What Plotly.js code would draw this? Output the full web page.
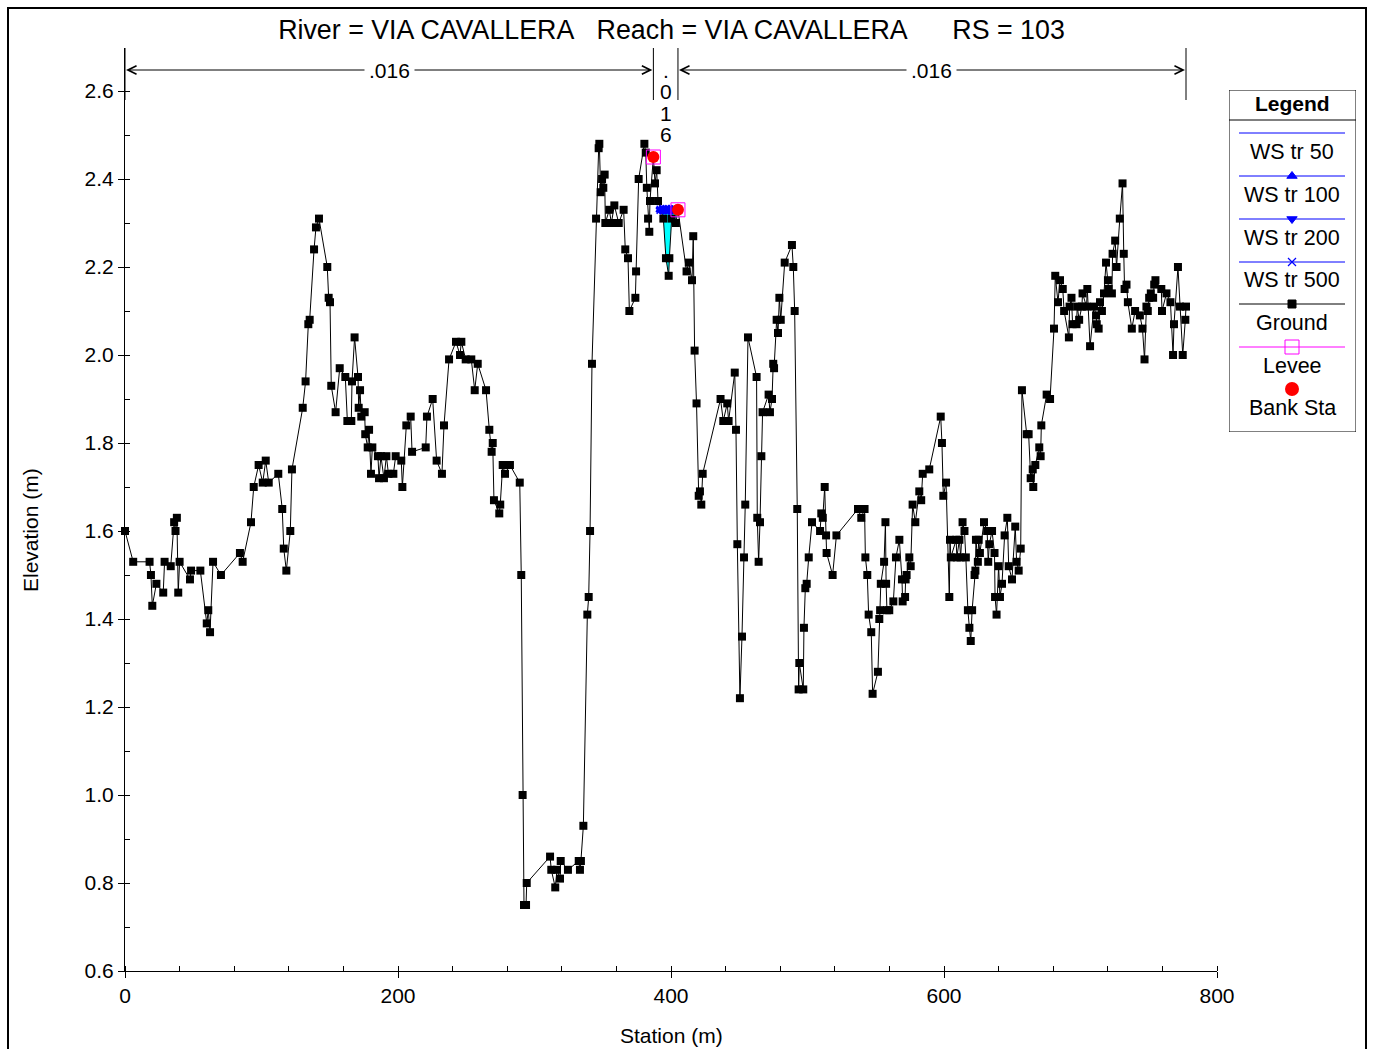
<!DOCTYPE html>
<html><head><meta charset="utf-8">
<script src="https://cdn.plot.ly/plotly-3.0.1.min.js"></script>
<style>html,body{margin:0;padding:0;background:#fff}#chart{width:1374px;height:1049px}</style>
</head><body><div id="chart"></div>
<script>
// ---------------- data ----------------
const groundSta = [0,6,18,19,20,23,28,29,33.5,36,37,38,39,40,47.6,48.4,55.2,59.9,61,62.3,64.5,70.3,84.2,86.2,92.3,94.3,97.9,100.9,103.1,105.3,112.3,115.2,116.3,118.2,121.1,122.3,
130.2,132.3,134.3,135.3,138.5,139.9,142.1,148.2,149.2,150.2,151.1,154.3,157.3,161.4,162.9,165.8,166.3,168.2,170.7,171.2,172.2,173.1,175.6,176,177.8,178.8,180.2,181.2,185.3,186.1,187.5,189.7,191.5,193,196.6,198.3,202.4,203.2,206.1,209.3,210.3,
220.3,221.2,225.4,228.3,232.2,233.7,237.4,242.5,245.4,246.4,249.6,253.7,256.2,258.4,264.5,266.9,268.6,269.4,270.3,274.2,274.9,276.7,278.4,282,289.2,290.3,291.3,292.3,293.8,294.3,
311.4,312.3,315.2,316.5,318.7,319.2,324.5,332.4,333.3,334,335.8,338.7,339.7,340.7,342.1,345.1,347,347.5,348.5,349.5,350.4,351.4,351.9,354.8,356.3,358.5,361.7,365.3,366.5,368.5,369.5,373.9,374.4,376.3,
380.5,381.5,382.3,383.2,384.1,384.6,387.1,388.3,389.5,390.5,394.4,396.3,398.3,398.8,400.5,403.6,405.1,411.4,413,415.4,416.3,417.3,418.7,420.3,421.2,422.2,423.2,
436.3,438.3,441.2,442.2,446.7,447.6,448.6,450.5,452,453.5,454.4,456.4,462.7,463.2,464.2,465.2,466.2,467.1,471.5,472.5,474,474.9,475.5,477.4,478.4,479.4,480.4,483.3,488.6,489.6,490.6,492.5,493.5,494,496.9,497.4,498.4,499.4,500.9,503.3,
509.2,510.1,511.2,512.6,513.6,514,518.4,521.2,537,539.4,541.8,542.4,543.8,544.8,546.7,547.7,551.6,552.6,553.2,553.7,556.1,557.1,557.6,558.2,559.9,562.9,564.8,567.3,569.2,569.7,571.5,571.9,572.6,574.6,575.6,577,579,581.9,583.3,584.4,589.2,
597.6,598.5,599.5,601.5,603.9,604.4,605,608.9,609.4,611.3,612.2,613.6,615,616,617.5,618.6,619.6,620.6,622.4,623,623.4,624.8,625.4,626.3,629.3,631.6,632.4,633.2,635.2,637,637.4,638.5,640,641,642.5,644.4,646.4,647.4,649.8,652.2,653.2,654.7,656.2,
657.1,660.6,662,663.5,665,665.4,666.9,669.8,670.8,671.3,675.2,677.7,680.6,681.5,683.5,685,687,688,691.5,692,693.4,694.2,697.1,697.6,699,701,701.5,704.4,705,707,709.9,711.4,711.9,713.3,714.3,715.7,717.2,718.7,720.1,720.6,723,723.5,725.4,726.4,728.8,730.8,
731.7,732.3,733.7,734.7,737.6,740,743.5,745.4,746.9,748.3,749.3,750.3,751.5,753.2,754,754.9,759.2,759.7,763,765.9,767.8,768.5,771.4,772.9,774.9,776.8,777.3];
const groundElev = [1.60,1.53,1.53,1.50,1.43,1.48,1.46,1.53,1.52,1.62,1.60,1.63,1.46,1.53,1.49,1.51,1.51,1.39,1.42,1.37,1.53,1.50,1.55,1.53,1.62,1.70,1.75,1.71,1.76,1.71,1.73,1.65,1.56,1.51,1.60,1.74,
1.88,1.94,2.07,2.08,2.24,2.29,2.31,2.20,2.13,2.12,1.93,1.87,1.97,1.95,1.85,1.85,1.94,2.04,1.95,1.88,1.92,1.86,1.87,1.82,1.79,1.83,1.73,1.79,1.77,1.72,1.77,1.72,1.77,1.73,1.73,1.77,1.76,1.70,1.84,1.86,1.78,
1.79,1.86,1.90,1.76,1.73,1.84,1.99,2.03,2.00,2.03,1.99,1.99,1.92,1.98,1.92,1.83,1.78,1.80,1.67,1.64,1.66,1.75,1.73,1.75,1.71,1.50,1.00,0.75,0.75,0.80,
0.86,0.83,0.79,0.83,0.81,0.85,0.83,0.85,0.83,0.85,0.93,1.41,1.45,1.60,1.98,2.31,2.47,2.48,2.37,2.40,2.38,2.41,2.30,2.33,2.30,2.34,2.30,2.33,2.24,2.22,2.10,2.13,2.19,2.40,
2.48,2.46,2.38,2.31,2.28,2.35,2.45,2.39,2.42,2.35,2.31,2.22,2.18,2.22,2.31,2.30,2.33,2.19,2.21,2.17,2.27,2.01,1.89,1.68,1.69,1.66,1.73,
1.90,1.85,1.89,1.85,1.96,1.83,1.57,1.22,1.36,1.54,1.66,2.04,1.95,1.63,1.53,1.62,1.77,1.87,1.91,1.87,1.90,1.98,1.97,2.08,2.05,2.13,2.08,2.21,2.25,2.20,2.10,1.65,1.24,1.30,1.24,1.38,1.47,1.48,1.54,1.62,
1.60,1.64,1.63,1.70,1.59,1.55,1.50,1.59,1.65,1.63,1.65,1.54,1.50,1.41,1.37,1.23,1.28,1.40,1.42,1.48,1.53,1.62,1.48,1.42,1.42,1.44,1.54,1.58,1.49,1.44,1.45,1.49,1.50,1.54,1.52,1.66,1.62,1.69,1.67,1.73,1.74,
1.86,1.80,1.68,1.71,1.45,1.58,1.54,1.58,1.54,1.58,1.54,1.62,1.60,1.54,1.42,1.38,1.35,1.42,1.50,1.51,1.58,1.53,1.58,1.55,1.62,1.60,1.53,1.57,1.60,1.55,1.45,1.41,1.52,1.45,1.48,1.59,1.63,1.52,1.49,1.61,1.53,1.51,1.56,
1.92,1.82,1.82,1.72,1.74,1.70,1.75,1.79,1.77,1.84,1.91,1.90,2.06,2.18,2.12,2.17,2.15,2.10,2.04,2.11,2.13,2.07,2.07,2.11,2.08,2.11,2.14,2.11,2.15,2.02,2.11,2.09,2.07,2.06,2.12,2.10,2.14,2.21,2.17,2.15,2.14,2.23,2.26,2.20,2.31,2.39,
2.23,2.15,2.16,2.12,2.06,2.10,2.09,2.06,1.99,2.11,2.10,2.13,2.14,2.13,2.16,2.17,2.15,2.10,2.14,2.12,2.00,2.07,2.20,2.11,2.00,2.08,2.11];

const wsNames = ['WS tr 50','WS tr 100','WS tr 200','WS tr 500'];
const wsElev = [2.33, 2.33, 2.33, 2.33];
const bankSta = [387.1, 405.1];
const bankElev = [2.45, 2.33];
const leveeSta = [387.1, 405.1];
const leveeElev = [2.45, 2.33];
const nBreaks = [0, 387.1, 405.1, 777.3];
const nValues = ['.016', '.016', '.016'];
const xTickVals = [0, 200, 400, 600, 800];
const yTickVals = [0.6, 0.8, 1.0, 1.2, 1.4, 1.6, 1.8, 2.0, 2.2, 2.4, 2.6];
const titleText = 'River = VIA CAVALLERA\u00a0\u00a0\u00a0Reach = VIA CAVALLERA\u00a0\u00a0\u00a0\u00a0\u00a0\u00a0RS = 103';
const xTitle = 'Station (m)';
const yTitle = 'Elevation (m)';
const legendItems = ['WS tr 50', 'WS tr 100', 'WS tr 200', 'WS tr 500', 'Ground', 'Levee', 'Bank Sta'];

// ---------------- helpers ----------------
const FONT = 'Arial, "Liberation Sans", Helvetica, sans-serif';
const yTop = 0.6 + (971 - 48) / 440;
const BLUE = '#0000ff';
const TXT = 21;

// wetted part of the channel between the bank stations
function wetted(level, left, right) {
  const xs = [], gs = [];
  for (let i = 0; i < groundSta.length; i++) {
    const x = groundSta[i], g = groundElev[i];
    if (x < left || x > right) continue;
    if (i > 0 && groundSta[i - 1] >= left) {
      const xp = groundSta[i - 1], gp = groundElev[i - 1];
      if ((gp - level) * (g - level) < 0) {
        const t = (level - gp) / (g - gp);
        xs.push(xp + t * (x - xp)); gs.push(level);
      }
    }
    if (g <= level) { xs.push(x); gs.push(g); }
  }
  return {xs, gs};
}
const wet = wetted(wsElev[0], bankSta[0], bankSta[1]);

const traces = [];
// water fill
traces.push({x: wet.xs, y: wet.gs, mode: 'lines', line: {width: 0, color: 'rgba(0,0,0,0)'}, hoverinfo: 'skip'});
traces.push({x: wet.xs, y: wet.xs.map(() => wsElev[0]), mode: 'lines', fill: 'tonexty', fillcolor: '#00ffff', line: {width: 0, color: 'rgba(0,0,0,0)'}, hoverinfo: 'skip'});
// ground
traces.push({x: groundSta, y: groundElev, mode: 'lines+markers', name: 'Ground', cliponaxis: false,
  line: {color: '#000', width: 1}, marker: {symbol: 'square', size: 8, color: '#000'}});
// water surfaces
const wsSymbols = [null, 'triangle-up', 'triangle-down', 'x-thin'];
wsNames.forEach((n, k) => {
  const tr = {x: wet.xs, y: wet.xs.map(() => wsElev[k]), name: n, mode: wsSymbols[k] ? 'lines+markers' : 'lines',
    line: {color: BLUE, width: 1}};
  if (wsSymbols[k]) tr.marker = {symbol: wsSymbols[k], size: 8, color: BLUE, line: {color: BLUE, width: 1.5}};
  traces.push(tr);
});
// levee & bank stations
traces.push({x: leveeSta, y: leveeElev, mode: 'markers', name: 'Levee', cliponaxis: false,
  marker: {symbol: 'square-open', size: 14, color: '#ff00ff', line: {color: '#ff00ff', width: 1}}});
traces.push({x: bankSta, y: bankElev, mode: 'markers', name: 'Bank Sta', cliponaxis: false,
  marker: {symbol: 'circle', size: 12, color: '#ff0000'}});

// ---------- legend box (drawn on its own small axes) ----------
const legRowLine = [43, 86, 129, 172, 214, 257];
const legRowText = [62, 105, 148, 190, 233, 276, 318];
const legSym = [null, 'triangle-up', 'triangle-down', 'x-thin', 'square', 'square-open'];
const legCol = [BLUE, BLUE, BLUE, BLUE, '#000', '#ff00ff'];
const legSize = [0, 9, 9, 8, 8, 14];
legRowLine.forEach((ly, k) => {
  traces.push({x: [10, 116], y: [ly, ly], xaxis: 'x2', yaxis: 'y2', mode: 'lines', line: {color: legCol[k], width: 1}, hoverinfo: 'skip'});
  if (legSym[k]) traces.push({x: [63], y: [ly], xaxis: 'x2', yaxis: 'y2', mode: 'markers', hoverinfo: 'skip',
    marker: {symbol: legSym[k], size: legSize[k], color: legCol[k], line: {color: legCol[k], width: legSym[k] === 'x-thin' ? 1.2 : 1}}});
});
traces.push({x: [63], y: [299], xaxis: 'x2', yaxis: 'y2', mode: 'markers', hoverinfo: 'skip', marker: {symbol: 'circle', size: 14, color: '#ff0000'}});

const annotations = [];
legendItems.forEach((t, k) => annotations.push({xref: 'x2', yref: 'y2', x: 63, y: legRowText[k], text: t, showarrow: false,
  font: {family: FONT, size: 21.5, color: '#000'}, xanchor: 'center', yanchor: 'middle'}));
annotations.push({xref: 'x2', yref: 'y2', x: 63, y: 14, text: '<b>Legend</b>', showarrow: false,
  font: {family: FONT, size: 21, color: '#000'}, xanchor: 'center', yanchor: 'middle'});

// ---------- Manning's n bar across the top ----------
const nY = 0.6 + (971 - 70) / 440;
for (let k = 0; k < nValues.length; k++) {
  const a = nBreaks[k], b = nBreaks[k + 1], m = (a + b) / 2;
  if (b - a > 40) {
    [a, b].forEach(end => annotations.push({xref: 'x', yref: 'y', axref: 'x', ayref: 'y', x: end, y: nY, ax: m, ay: nY,
      text: '', showarrow: true, arrowhead: 5, arrowsize: 1.7, arrowwidth: 1, arrowcolor: '#000', standoff: 1}));
    annotations.push({xref: 'x', yref: 'y', x: m, y: nY, text: nValues[k], showarrow: false, bgcolor: '#fff',
      font: {family: FONT, size: TXT, color: '#000'}, xanchor: 'center', yanchor: 'middle', borderpad: 4});
  } else {
    nValues[k].split('').forEach((ch, i) => annotations.push({xref: 'x', yref: 'y', x: m, y: nY - i * 21.6 / 440,
      text: ch, showarrow: false, font: {family: FONT, size: TXT, color: '#000'}, xanchor: 'center', yanchor: 'middle'}));
  }
}
// axis titles
annotations.push({xref: 'paper', yref: 'paper', x: (671 - 125) / 1241, y: (971 - 1035) / 923, text: xTitle, showarrow: false,
  font: {family: FONT, size: TXT, color: '#000'}, xanchor: 'center', yanchor: 'middle'});
annotations.push({xref: 'paper', yref: 'paper', x: (30 - 125) / 1241, y: (971 - 530) / 923, text: yTitle, showarrow: false, textangle: -90,
  font: {family: FONT, size: TXT, color: '#000'}, xanchor: 'center', yanchor: 'middle'});

const shapes = [];
nBreaks.forEach(s => shapes.push({type: 'line', xref: 'x', yref: 'y', x0: s, x1: s, y0: 0.6 + (971 - 100) / 440, y1: yTop, line: {color: '#000', width: 1}}));
shapes.push({type: 'rect', xref: 'x2', yref: 'y2', x0: 0, x1: 127, y0: 0, y1: 342, line: {color: '#000', width: 1}});
shapes.push({type: 'line', xref: 'x2', yref: 'y2', x0: 0, x1: 127, y0: 30, y1: 30, line: {color: '#000', width: 1}});
// outer frame
shapes.push({type: 'rect', xref: 'paper', yref: 'paper', x0: (8 - 125) / 1241, x1: (1366 - 125) / 1241, y0: (971 - 1060) / 923, y1: (971 - 8) / 923, line: {color: '#000', width: 2}});

const layout = {
  width: 1374, height: 1049,
  margin: {l: 125, r: 8, t: 48, b: 78, pad: 0},
  paper_bgcolor: '#fff', plot_bgcolor: '#fff',
  showlegend: false,
  font: {family: FONT, size: TXT, color: '#000'},
  title: {text: titleText, font: {family: FONT, size: 26.8, color: '#000'}, xref: 'paper', x: (671.5 - 125) / 1241, xanchor: 'center',
    yref: 'container', y: 1 - 30 / 1049, yanchor: 'middle'},
  xaxis: {domain: [0, 1092 / 1241], range: [0, 800], tickvals: xTickVals, ticks: 'outside', ticklen: 6, tickwidth: 1, tickcolor: '#000',
    showline: true, linecolor: '#000', linewidth: 1, showgrid: false, zeroline: false, tickfont: {family: FONT, size: TXT, color: '#000'},
    minor: {tick0: 0, dtick: 40, ticks: 'inside', ticklen: 5, tickcolor: '#000', showgrid: false}, fixedrange: true},
  yaxis: {domain: [0, 1], range: [0.6, yTop], tickvals: yTickVals, tickformat: '.1f', ticks: 'outside', ticklen: 6, tickwidth: 1, tickcolor: '#000',
    showline: true, linecolor: '#000', linewidth: 1, showgrid: false, zeroline: false, tickfont: {family: FONT, size: TXT, color: '#000'},
    minor: {tick0: 0.6, dtick: 0.1, ticks: 'inside', ticklen: 5, tickcolor: '#000', showgrid: false}, fixedrange: true},
  xaxis2: {domain: [(1229 - 125) / 1241, (1356 - 125) / 1241], range: [0, 127], visible: false, anchor: 'y2', fixedrange: true},
  yaxis2: {domain: [(971 - 432) / 923, (971 - 90) / 923], range: [342, 0], visible: false, anchor: 'x2', fixedrange: true},
  annotations, shapes
};
Plotly.newPlot('chart', traces, layout, {displayModeBar: false, staticPlot: true});
</script></body></html>
